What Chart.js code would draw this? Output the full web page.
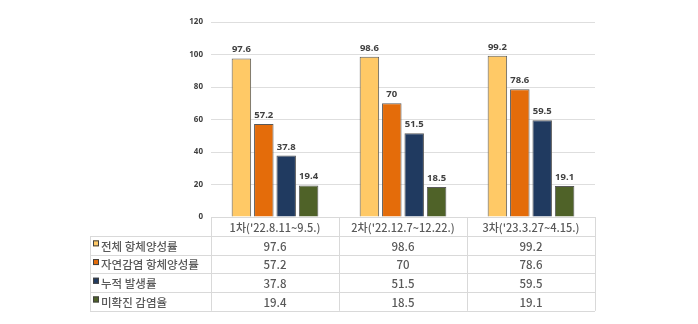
<!DOCTYPE html>
<html>
<head>
<meta charset="utf-8">
<script src="https://cdn.jsdelivr.net/npm/chart.js@4/dist/chart.umd.min.js"></script>
<style>
html,body{margin:0;padding:0;background:#fff;}
#c{display:block;}
</style>
</head>
<body>
<canvas id="c" width="698" height="324"></canvas>
<script>
const categories = ["1차('22.8.11~9.5.)", "2차('22.12.7~12.22.)", "3차('23.3.27~4.15.)"];
const seriesNames = ["전체 항체양성률", "자연감염 항체양성률", "누적 발생률", "미확진 감염율"];
const totalAntibody = [97.6, 98.6, 99.2];
const naturalAntibody = [57.2, 70, 78.6];
const cumulativeIncidence = [37.8, 51.5, 59.5];
const unconfirmedInfection = [19.4, 18.5, 19.1];
const yTickMin = 0, yTickMax = 120, yTickStep = 20;

const seriesValues = [totalAntibody, naturalAntibody, cumulativeIncidence, unconfirmedInfection];
const seriesColors = ['#FFC966', '#E46C0A', '#203A60', '#4F6228'];

const FONT_KR = "'Noto Sans CJK KR', 'Noto Sans', sans-serif";

const dataLabelPlugin = {
  id: 'dataLabels',
  afterDatasetsDraw(chart) {
    const ctx = chart.ctx;
    ctx.save();
    ctx.font = "bold 9.5px 'Noto Sans', 'DejaVu Sans', sans-serif";
    ctx.fillStyle = '#404040';
    ctx.textAlign = 'center';
    ctx.textBaseline = 'bottom';
    chart.data.datasets.forEach((ds, di) => {
      const meta = chart.getDatasetMeta(di);
      meta.data.forEach((bar, i) => {
        ctx.fillText(String(ds.data[i]), bar.x, bar.y - 4);
      });
    });
    ctx.restore();
  }
};

const tablePlugin = {
  id: 'dataTable',
  afterDraw(chart) {
    const ctx = chart.ctx;
    const area = chart.chartArea;
    const xs = chart.scales.x;
    const n = categories.length;
    const catW = (area.right - area.left) / n;
    const top = area.bottom;
    const headerH = 19;
    const rowH = 18.7;
    const legendLeft = 90;
    const bottom = top + headerH + rowH * seriesNames.length;
    ctx.save();
    ctx.strokeStyle = '#d9d9d9';
    ctx.lineWidth = 1;
    const hl = (x1, x2, y) => { ctx.beginPath(); ctx.moveTo(x1, Math.round(y) + 0.5); ctx.lineTo(x2, Math.round(y) + 0.5); ctx.stroke(); };
    const vl = (x, y1, y2) => { ctx.beginPath(); ctx.moveTo(Math.round(x) + 0.5, y1); ctx.lineTo(Math.round(x) + 0.5, y2); ctx.stroke(); };
    hl(area.left, area.right, top);
    for (let r = 0; r <= seriesNames.length; r++) {
      hl(legendLeft, area.right, top + headerH + rowH * r);
    }
    vl(legendLeft, top + headerH, bottom);
    for (let c = 0; c <= n; c++) {
      vl(area.left + catW * c, top, bottom);
    }
    ctx.fillStyle = '#595959';
    ctx.textAlign = 'center';
    ctx.textBaseline = 'middle';
    ctx.font = "500 11px " + FONT_KR;
    categories.forEach((cat, i) => {
      ctx.fillText(cat, xs.getPixelForValue(i), top + headerH / 2 + 1);
    });
    seriesNames.forEach((name, r) => {
      const cy = top + headerH + rowH * r + rowH / 2 + 1;
      ctx.fillStyle = seriesColors[r];
      ctx.strokeStyle = '#404040';
      ctx.fillRect(93, cy - 6, 6, 6);
      ctx.strokeRect(93.5, cy - 5.5, 5, 5);
      ctx.fillStyle = '#595959';
      ctx.textAlign = 'left';
      ctx.font = "500 11.5px " + FONT_KR;
      ctx.fillText(name, 101, cy);
      ctx.textAlign = 'center';
      ctx.font = "500 11.5px " + FONT_KR;
      seriesValues[r].forEach((v, i) => {
        ctx.fillText(String(v), xs.getPixelForValue(i), cy);
      });
    });
    ctx.restore();
  }
};

const bgPlugin = {
  id: 'bg',
  beforeDraw(chart) {
    const ctx = chart.ctx;
    ctx.save();
    ctx.fillStyle = '#fff';
    ctx.fillRect(0, 0, chart.width, chart.height);
    ctx.restore();
  }
};

new Chart(document.getElementById('c'), {
  type: 'bar',
  data: {
    labels: categories,
    datasets: seriesNames.map((name, i) => ({
      label: name,
      data: seriesValues[i],
      backgroundColor: seriesColors[i],
      borderColor: '#595959',
      borderWidth: 1,
      categoryPercentage: 0.70,
      barPercentage: 0.87
    }))
  },
  options: {
    responsive: false,
    animation: false,
    devicePixelRatio: 1,
    layout: { padding: { left: 170, right: 103, top: 22, bottom: 107 } },
    plugins: {
      legend: { display: false },
      tooltip: { enabled: false }
    },
    scales: {
      x: { display: false },
      y: {
        min: yTickMin,
        max: yTickMax,
        afterFit(scale) { scale.width = 41; },
        ticks: {
          stepSize: yTickStep,
          padding: 8,
          color: '#404040',
          font: { size: 8, weight: 'bold', family: "'Noto Sans', 'DejaVu Sans', sans-serif" }
        },
        grid: { color: '#dedede', drawTicks: false },
        border: { display: false }
      }
    }
  },
  plugins: [bgPlugin, dataLabelPlugin, tablePlugin]
});
</script>
</body>
</html>
